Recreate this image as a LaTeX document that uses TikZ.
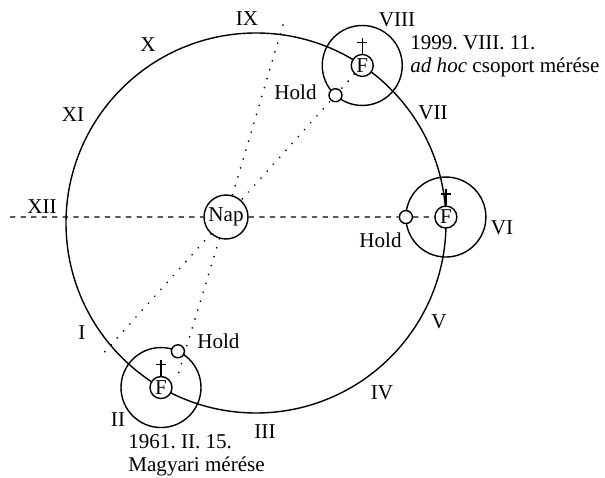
\documentclass[tikz,border=0pt]{standalone}
\usepackage{fontspec}
\setmainfont{Liberation Serif}
\usetikzlibrary{calc, backgrounds}
\frenchspacing
\tikzset{
  orbit/.style    = {line width=0.8pt},
  earth/.style    = {circle, draw, fill=white, line width=0.8pt, inner sep=0pt,
                     minimum size=0.44cm, font=\fontsize{12}{13}\selectfont},
  sun/.style      = {circle, draw, fill=white, line width=0.8pt, inner sep=0pt,
                     minimum size=0.88cm, font=\fontsize{12}{13}\selectfont},
  moon/.style     = {circle, draw, fill=white, line width=0.8pt, inner sep=0pt,
                     minimum size=0.26cm},
  eclipse/.style  = {line width=1pt, dash pattern=on 0.1pt off 5.2pt, line cap=round},
  lbl/.style      = {font=\fontsize{12}{13}\selectfont, inner sep=0pt},
}

\begin{document}
\begin{tikzpicture}
  \useasboundingbox (0,0) rectangle (12.1,9.56);
  % centre of the yearly orbit, with the Sun a little off it
  \coordinate (sunorb) at (5.12,5.10);
  \node[sun] (nap) at (4.52,5.22) {Nap};
  % the Earth at the three dates
  \node[earth] (f1) at ($(sunorb)+(56:3.8)$) {F};
  \node[earth] (f2) at ($(sunorb)+(1.8:3.8)$) {F};
  \node[earth] (f3) at ($(sunorb)+(240:3.8)$) {F};
  % the Moon on its small orbit
  \node[moon] (h1) at ($(f1)!0.8cm!(nap)$) {};
  \node[moon] (h2) at ($(f2)!0.8cm!(nap)$) {};
  \node[moon] (h3) at ($(f3)+(65:0.8)$) {};
  \node[lbl, anchor=east] (hold1) at (6.34,7.72) {Hold};
  \node[lbl, anchor=east] (hold2) at (8.04,4.76) {Hold};
  \node[lbl, anchor=west] (hold3) at (3.94,2.74) {Hold};
  % dates
  \node[lbl, anchor=west, align=left] (date1) at (8.20,8.43)
    {1999. VIII. 11.\\\textit{ad hoc} csoport mérése};
  \node[lbl, anchor=west, align=left] (date2) at (2.56,0.45)
    {1961. II. 15.\\Magyari mérése};
  % months round the orbit
  \foreach \m/\x/\y in {I/1.64/2.90, II/2.36/1.16, III/5.30/0.92, IV/7.64/1.70,
                        V/8.78/3.12, VI/10.04/5.00, VII/8.66/7.30, VIII/7.94/9.16,
                        IX/4.94/9.18, X/2.96/8.66, XI/1.46/7.26, XII/0.84/5.42} {
    \node[lbl] (m\m) at (\x,\y) {\m};
  }
  \coordinate (xii) at (0.2,5.22);
  \coordinate (atop) at (5.66,9.06);
  \coordinate (abot) at (3.56,2.06);
  \coordinate (bbot) at ($(nap)!-0.92!(f1)$);
  \begin{scope}[on background layer]
    \draw[orbit] (sunorb) circle (3.8);
    \foreach \f in {f1,f2,f3} {
      \draw[orbit] (\f) circle (0.8);
    }
    \draw[eclipse] (atop) -- (nap) -- (abot);
    \draw[eclipse] (f1) -- (nap) -- (bbot);
    \draw[orbit, dashed] (xii) -- (nap) (nap) -- (h2) (h2) -- (f2);
  \end{scope}
  % crosses over the Earth
  \foreach \f in {f1,f2,f3} {
    \draw[orbit] (\f.north) -- ++(0,0.32) ++(-0.1,-0.09) -- ++(0.2,0);
  }
\end{tikzpicture}
\end{document}
